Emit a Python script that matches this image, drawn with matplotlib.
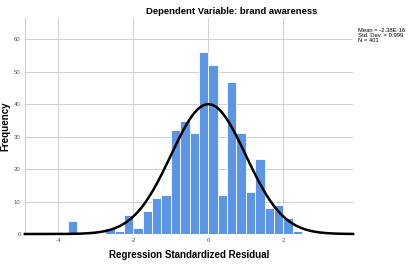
import numpy as np
import matplotlib
matplotlib.use("Agg")
import matplotlib.pyplot as plt

bin_left_edges = [-3.75, -3.5, -3.25, -3.0, -2.75, -2.5, -2.25, -2.0, -1.75, -1.5, -1.25,
                  -1.0, -0.75, -0.5, -0.25, 0.0, 0.25, 0.5, 0.75, 1.0, 1.25, 1.5, 1.75, 2.0, 2.25]
counts = [4, 0, 1, 0, 2, 1, 6, 2, 7, 11, 12,
          32, 35, 31, 56, 52, 12, 47, 31, 13, 23, 8, 9, 5, 1]
bin_width = 0.25
mean_val = -2.38e-16
sd_val = 0.999
n_val = 401

x_ticks = [-4, -2, 0, 2]
y_ticks = [0, 10, 20, 30, 40, 50, 60]

plt.rcParams['font.family'] = ['Liberation Sans', 'DejaVu Sans']

fig = plt.figure(figsize=(4.15, 2.64), dpi=100)
ax = fig.add_axes([0.060, 0.1136, 0.791, 0.818])

xmin, xmax = -4.89, 3.86
ax.set_xlim(xmin, xmax)
ax.set_ylim(0, 66.6)

ax.bar(bin_left_edges, counts, width=bin_width, align='edge', color='#5b95e3',
       edgecolor='white', linewidth=0.6, zorder=2)

xs = np.linspace(xmin, xmax, 400)
ys = n_val * bin_width * np.exp(-0.5 * ((xs - mean_val) / sd_val) ** 2) / (sd_val * np.sqrt(2 * np.pi))
ax.plot(xs, ys, color='black', lw=1.8, zorder=3, clip_on=False)

ax.set_xticks(x_ticks)
ax.set_xticklabels([str(t) for t in x_ticks])
ax.set_yticks(y_ticks)
ax.grid(True, color='#d0d0d0', lw=0.7, zorder=0)
ax.set_axisbelow(True)
ax.tick_params(axis='both', length=0, labelsize=4.3, colors='#555555', pad=3)
for s in ['top', 'right', 'bottom']:
    ax.spines[s].set_visible(False)
ax.spines['left'].set_color('#c8c8c8')
ax.spines['left'].set_linewidth(0.7)

fig.text(232 / 415, 1 - 11 / 264, 'Dependent Variable: brand awareness', fontsize=6.8,
         fontweight='bold', ha='center', va='center')
ax.set_xlabel('Regression Standardized Residual', fontsize=7, fontweight='bold', labelpad=5)
fig.text(5 / 415, 0.52, 'Frequency', fontsize=7, fontweight='bold', rotation=90,
         ha='center', va='center')

fig.text(358 / 415, 1 - 28 / 264, 'Mean = -2.38E-16\nStd. Dev. = 0.999\nN = 401',
         fontsize=4.2, va='top', ha='left', linespacing=1.05)

fig.savefig('out.png', dpi=100)
